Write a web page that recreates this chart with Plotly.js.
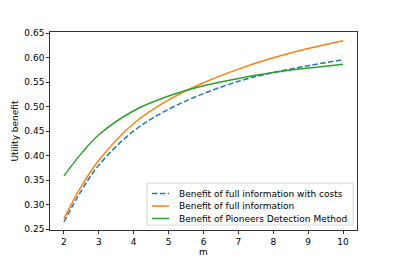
<!DOCTYPE html>
<html>
<head>
<meta charset="utf-8">
<script src="https://cdn.plot.ly/plotly-3.0.1.min.js"></script>
<style>html,body{margin:0;padding:0;background:#fff;}#chart{width:397px;height:264px;}</style>
</head>
<body>
<div id="chart"></div>
<script>
const m = [2, 2.5, 3, 4, 5, 6, 7, 8, 9, 10];
const fullInfoWithCosts = [0.265, 0.329, 0.381, 0.451, 0.495, 0.527, 0.552, 0.570, 0.584, 0.596];
const fullInfo = [0.272, 0.338, 0.391, 0.466, 0.514, 0.549, 0.577, 0.600, 0.619, 0.635];
const pioneers = [0.359, 0.405, 0.443, 0.492, 0.522, 0.543, 0.558, 0.570, 0.579, 0.587];
const seriesNames = ["Benefit of full information with costs", "Benefit of full information", "Benefit of Pioneers Detection Method"];
const seriesColors = ["#1f77b4", "#ff7f0e", "#2ca02c"];
const seriesDash = ["5.5px,2.4px", "solid", "solid"];
const xTicks = [2, 3, 4, 5, 6, 7, 8, 9, 10];
const yTicks = [0.25, 0.30, 0.35, 0.40, 0.45, 0.50, 0.55, 0.60, 0.65];

const font = {family: "DejaVu Sans", size: 9, color: "#000"};
const ys = [fullInfoWithCosts, fullInfo, pioneers];
const traces = ys.map((y, i) => ({
  x: m, y: y, name: seriesNames[i], mode: "lines",
  line: {color: seriesColors[i], width: 1.5, dash: seriesDash[i], shape: "spline"}
}));

// matplotlib-style legend (lower right), built in paper coordinates
const legBox = {x0: 0.316, x1: 0.987, y0: 0.025, y1: 0.237};
const rowY = [0.184, 0.121, 0.058];
const shapes = [{type: "rect", xref: "paper", yref: "paper",
  x0: legBox.x0, x1: legBox.x1, y0: legBox.y0, y1: legBox.y1,
  fillcolor: "rgba(255,255,255,0.8)", line: {color: "#cccccc", width: 0.8}, layer: "above"}];
const annotations = [];
seriesNames.forEach((name, i) => {
  shapes.push({type: "line", xref: "paper", yref: "paper",
    x0: 0.332, x1: 0.388, y0: rowY[i], y1: rowY[i],
    line: {color: seriesColors[i], width: 1.5, dash: seriesDash[i]}, layer: "above"});
  annotations.push({xref: "paper", yref: "paper", x: 0.413, y: rowY[i],
    xanchor: "left", yanchor: "middle", text: name, showarrow: false, font: font});
});

const axisCommon = {
  showgrid: false, zeroline: false, showline: true, mirror: true,
  linecolor: "#000", linewidth: 0.8, ticks: "outside", ticklen: 3,
  tickwidth: 0.8, tickcolor: "#000", tickfont: font
};
const layout = {
  width: 397, height: 264,
  margin: {l: 50, r: 40, t: 32, b: 34},
  paper_bgcolor: "#fff", plot_bgcolor: "#fff",
  font: font,
  showlegend: false,
  shapes: shapes,
  annotations: annotations,
  xaxis: Object.assign({}, axisCommon, {
    range: [1.6, 10.4], tickvals: xTicks, ticktext: xTicks.map(String),
    title: {text: "m", font: font, standoff: 3}
  }),
  yaxis: Object.assign({}, axisCommon, {
    range: [0.2486, 0.6527], tickvals: yTicks, ticktext: yTicks.map(v => v.toFixed(2)),
    title: {text: "Utility benefit", font: font, standoff: 4}
  })
};
Plotly.newPlot("chart", traces, layout, {displayModeBar: false, staticPlot: true});
</script>
</body>
</html>
